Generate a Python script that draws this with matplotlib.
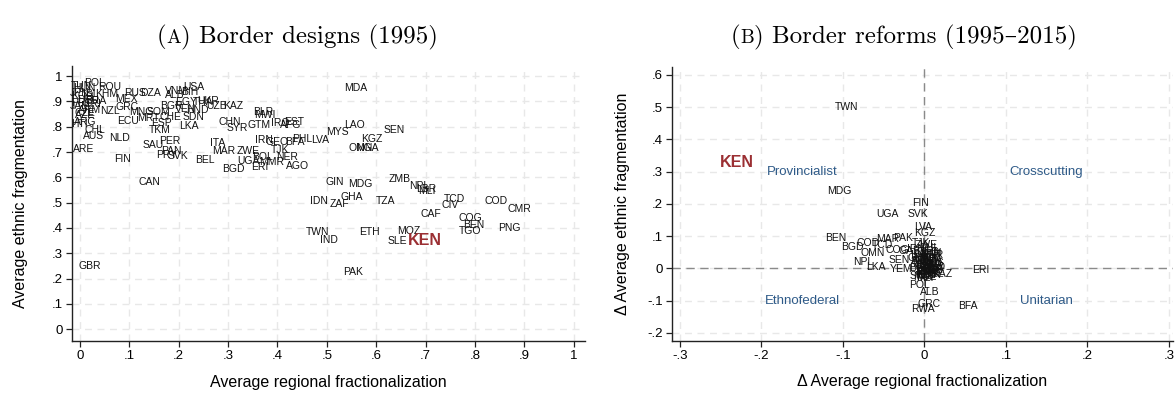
import matplotlib
matplotlib.use("Agg")
import matplotlib.pyplot as plt

# ---------------- Panel A: border designs in 1995 ----------------
codes_a = ["POL", "ROU", "HUN", "TUN", "JPN", "KOR", "DEU", "PRT", "ISL", "BRA",
           "CRI", "JAM", "KHM", "MEX", "RUS", "DZA", "USA", "ALB", "VNM", "BIH",
           "EGY", "UKR", "THA", "BGR", "VEN", "HND", "UZB", "KAZ", "GRC", "NZL",
           "ARM", "CZE", "AZE", "ECU", "MNG", "SOM", "MRT", "CHE", "SDN", "ESP",
           "TKM", "LKA", "ARG", "HTI", "CHL", "AUS", "NLD", "ARE", "FIN", "CAN",
           "SAU", "PER", "PAN", "PRY", "SVK", "BEL", "ITA", "MAR", "BGD", "CHN",
           "SYR", "GTM", "BLR", "MWI", "IRQ", "EST", "AFG", "IRN", "GEO", "BFA",
           "PHL", "LVA", "ZWE", "TJK", "NER", "BOL", "UGA", "MMR", "ERI", "AGO",
           "MYS", "LAO", "SEN", "KGZ", "OMN", "NGA", "GIN", "MDG", "GHA", "IDN",
           "ZAF", "TZA", "TWN", "IND", "ETH", "MDA", "ZMB", "NPL", "LBR", "MLI",
           "TCD", "CIV", "COD", "CMR", "CAF", "COG", "BEN", "TGO", "PNG", "MOZ",
           "SLE", "PAK", "GBR", "KEN"]
regional_frac_a = [0.030, 0.061, 0.008, 0.004, 0.000, 0.006, 0.016, 0.002, 0.022, 0.032,
                   0.026, 0.001, 0.054, 0.095, 0.112, 0.142, 0.230, 0.193, 0.196, 0.223,
                   0.216, 0.260, 0.250, 0.186, 0.213, 0.237, 0.277, 0.311, 0.095, 0.061,
                   0.020, 0.010, 0.010, 0.098, 0.125, 0.159, 0.139, 0.183, 0.230, 0.166,
                   0.162, 0.220, 0.010, 0.000, 0.030, 0.027, 0.081, 0.008, 0.087, 0.141,
                   0.149, 0.181, 0.186, 0.176, 0.199, 0.254, 0.279, 0.291, 0.311, 0.304,
                   0.318, 0.362, 0.372, 0.375, 0.406, 0.433, 0.426, 0.372, 0.399, 0.436,
                   0.450, 0.487, 0.341, 0.406, 0.419, 0.369, 0.341, 0.389, 0.365, 0.440,
                   0.521, 0.556, 0.636, 0.592, 0.568, 0.582, 0.517, 0.568, 0.551, 0.485,
                   0.526, 0.620, 0.481, 0.505, 0.587, 0.558, 0.648, 0.688, 0.702, 0.703,
                   0.759, 0.749, 0.842, 0.889, 0.710, 0.791, 0.798, 0.791, 0.869, 0.666,
                   0.642, 0.554, 0.020, 0.698]
ethnic_frag_a = [0.971, 0.958, 0.955, 0.960, 0.935, 0.920, 0.905, 0.893, 0.928, 0.902,
                 0.888, 0.882, 0.931, 0.911, 0.934, 0.934, 0.958, 0.925, 0.942, 0.938,
                 0.898, 0.902, 0.898, 0.881, 0.872, 0.866, 0.881, 0.881, 0.876, 0.863,
                 0.868, 0.856, 0.848, 0.823, 0.859, 0.859, 0.833, 0.839, 0.839, 0.813,
                 0.787, 0.802, 0.817, 0.810, 0.787, 0.764, 0.756, 0.710, 0.671, 0.580,
                 0.727, 0.744, 0.705, 0.688, 0.684, 0.668, 0.734, 0.704, 0.631, 0.817,
                 0.793, 0.806, 0.859, 0.846, 0.813, 0.820, 0.806, 0.749, 0.740, 0.740,
                 0.753, 0.749, 0.705, 0.708, 0.681, 0.679, 0.664, 0.661, 0.639, 0.646,
                 0.780, 0.806, 0.789, 0.750, 0.714, 0.714, 0.580, 0.573, 0.523, 0.506,
                 0.494, 0.506, 0.382, 0.352, 0.382, 0.955, 0.593, 0.567, 0.552, 0.545,
                 0.514, 0.490, 0.507, 0.473, 0.455, 0.441, 0.411, 0.389, 0.398, 0.389,
                 0.349, 0.224, 0.250, 0.352]

# ---------------- Panel B: border reforms 1995-2015 ----------------
codes_b = ["TWN", "KEN", "MDG", "FIN", "UGA", "SVK", "LVA", "KGZ", "BEN", "BGD",
           "COD", "TCD", "MAR", "PAK", "OMN", "NPL", "LKA", "SEN", "YEM", "ERI",
           "KAZ", "SWZ", "POL", "ALB", "GRC", "RWA", "BFA", "COG", "GAB",
           "TJK", "ZWE", "PHL", "IRN", "GEO", "CHN", "IDN", "PER", "NGA", "MEX",
           "BRA", "ARG", "CHL", "RUS", "UKR", "BLR", "EST", "ROU", "BGR", "HUN",
           "CZE", "ESP", "ITA", "FRA", "BEL", "NLD", "GHA", "TZA", "ZMB", "MOZ",
           "ETH", "SDN", "DZA", "EGY", "TUN", "MLI", "NER", "CIV", "CMR", "AGO"]
d_regional_b = [-0.0955, -0.230, -0.104, -0.005, -0.045, -0.008, -0.001, 0.001, -0.109, -0.088,
                -0.069, -0.051, -0.045, -0.026, -0.064, -0.075, -0.060, -0.031, -0.029, 0.069,
                0.022, -0.004, -0.006, 0.006, 0.006, -0.002, 0.053, -0.033, -0.018,
                -0.004, 0.002, 0.006, -0.010, 0.004, 0.008, -0.006, 0.010, 0.000, 0.004,
                0.009, -0.003, 0.007, 0.011, -0.002, 0.005, 0.001, 0.008, -0.005, 0.003,
                0.010, 0.006, -0.001, 0.004, 0.012, 0.002, -0.007, 0.009, 0.005, 0.000,
                0.007, -0.004, 0.011, 0.003, 0.008, 0.001, 0.010, -0.002, 0.006, 0.013]
d_ethnic_b = [0.500, 0.327, 0.240, 0.203, 0.168, 0.168, 0.127, 0.109, 0.093, 0.067,
              0.079, 0.072, 0.090, 0.093, 0.047, 0.021, 0.005, 0.026, -0.003, -0.005,
              -0.018, -0.024, -0.050, -0.073, -0.111, -0.127, -0.116, 0.057, 0.055,
              0.078, 0.071, 0.064, 0.060, 0.052, 0.048, 0.043, 0.040, 0.036, 0.031,
              0.027, 0.024, 0.020, 0.017, 0.013, 0.010, 0.007, 0.004, 0.002, -0.001,
              -0.004, -0.007, -0.010, -0.013, -0.016, -0.019, 0.033, 0.015, -0.008, -0.026,
              0.045, 0.022, 0.001, -0.012, 0.029, -0.031, -0.002, 0.012, -0.021, 0.004]

quadrant_names = ["Provincialist", "Crosscutting", "Ethnofederal", "Unitarian"]
quadrant_x = [-0.15, 0.15, -0.15, 0.15]
quadrant_y = [0.30, 0.30, -0.10, -0.10]

ticks_a = [0, 0.1, 0.2, 0.3, 0.4, 0.5, 0.6, 0.7, 0.8, 0.9, 1.0]
ticklabels_a = ["0", ".1", ".2", ".3", ".4", ".5", ".6", ".7", ".8", ".9", "1"]
xticks_b = [-0.3, -0.2, -0.1, 0, 0.1, 0.2, 0.3]
xticklabels_b = ["-.3", "-.2", "-.1", "0", ".1", ".2", ".3"]
yticks_b = [-0.2, -0.1, 0, 0.1, 0.2, 0.3, 0.4, 0.5, 0.6]
yticklabels_b = ["-.2", "-.1", "0", ".1", ".2", ".3", ".4", ".5", ".6"]

HIGHLIGHT = "KEN"
RED = "#9b2f33"
BLUE = "#2e5a88"
SANS = "Liberation Sans"
SERIF = ["cmr10", "DejaVu Serif"]

plt.rcParams["font.family"] = SANS

fig = plt.figure(figsize=(11.76, 3.95), dpi=100)
ax_a = fig.add_axes([0.0608, 0.1367, 0.4363, 0.6962])
ax_b = fig.add_axes([0.5712, 0.1375, 0.4262, 0.6929])


def style_axes(ax):
    for side in ("top", "right"):
        ax.spines[side].set_visible(False)
    for side in ("left", "bottom"):
        ax.spines[side].set_color("#222222")
        ax.spines[side].set_linewidth(1.0)
    ax.tick_params(axis="both", direction="out", length=4.5, width=0.9,
                   color="#222222", labelsize=9.5, pad=2)
    ax.grid(True, color="#e8e8e8", linestyle=(0, (5, 4)), linewidth=1.0)
    ax.set_axisbelow(True)


def draw_labels(ax, codes, xs, ys):
    for c, x, y in zip(codes, xs, ys):
        if c == HIGHLIGHT:
            ax.text(x, y, c, ha="center", va="center", fontsize=11.5,
                    fontweight="bold", color=RED, zorder=4)
        else:
            ax.text(x, y, c, ha="center", va="center", fontsize=7.5,
                    color="#111111", zorder=3)


# Panel A
style_axes(ax_a)
ax_a.scatter(regional_frac_a, ethnic_frag_a, s=0)
draw_labels(ax_a, codes_a, regional_frac_a, ethnic_frag_a)
ax_a.set_xlim(-0.017, 1.022)
ax_a.set_ylim(-0.047, 1.04)
ax_a.set_xticks(ticks_a)
ax_a.set_xticklabels(ticklabels_a)
ax_a.set_yticks(ticks_a)
ax_a.set_yticklabels(ticklabels_a)
ax_a.set_xlabel("Average regional fractionalization", fontsize=11.5, labelpad=9)
ax_a.set_ylabel("Average ethnic fragmentation", fontsize=11.5, labelpad=17)

# Panel B
style_axes(ax_b)
ax_b.axhline(0, color="#8a8a8a", linestyle=(0, (6, 4)), linewidth=1.0, zorder=1)
ax_b.axvline(0, color="#8a8a8a", linestyle=(0, (6, 4)), linewidth=1.0, zorder=1)
ax_b.scatter(d_regional_b, d_ethnic_b, s=0)
draw_labels(ax_b, codes_b, d_regional_b, d_ethnic_b)
for name, qx, qy in zip(quadrant_names, quadrant_x, quadrant_y):
    ax_b.text(qx, qy, name, ha="center", va="center", fontsize=9.5, color=BLUE)
ax_b.set_xlim(-0.310, 0.305)
ax_b.set_ylim(-0.224, 0.624)
ax_b.set_xticks(xticks_b)
ax_b.set_xticklabels(xticklabels_b)
ax_b.set_yticks(yticks_b)
ax_b.set_yticklabels(yticklabels_b)
ax_b.set_xlabel("\u0394 Average regional fractionalization", fontsize=11.5, labelpad=9)
ax_b.set_ylabel("\u0394 Average ethnic fragmentation", fontsize=11.5, labelpad=12)


# Subfigure captions with a small-caps letter
def caption(xc_px, y_px, letter, rest, size=18):
    renderer = fig.canvas.get_renderer()
    pieces = [("(", size), (letter, size * 0.78), (") " + rest, size)]
    texts = []
    for s, fs in pieces:
        t = fig.text(0, 1 - y_px / fig.bbox.height, s, fontsize=fs,
                     family=SERIF, ha="left", va="baseline")
        texts.append(t)
    widths = [t.get_window_extent(renderer).width for t in texts]
    x = xc_px - sum(widths) / 2
    for t, w in zip(texts, widths):
        t.set_x(x / fig.bbox.width)
        x += w


caption(297, 43, "A", "Border designs (1995)")
caption(904, 43, "B", "Border reforms (1995\u20132015)")

fig.savefig("out.png", dpi=100, facecolor="white")
